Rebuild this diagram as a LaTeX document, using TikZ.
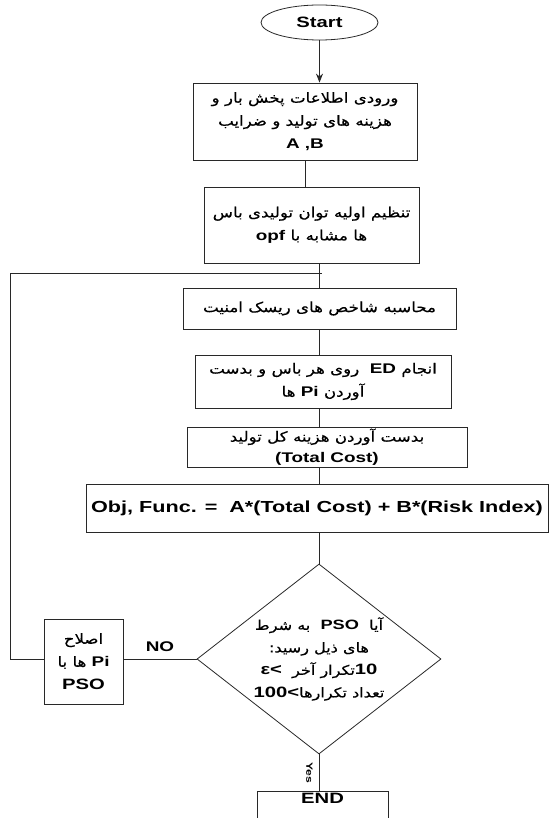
\documentclass[tikz,border=0pt]{standalone}
\usepackage{fontspec}
\setmainfont{Liberation Sans}[FakeStretch=1.35]
\newfontfamily\arabicfont[Script=Arabic, FakeStretch=1.19, FakeBold=0.4]{DejaVu Sans}
\TeXXeTstate=1
\usetikzlibrary{shapes.geometric, arrows.meta, positioning, calc}
\definecolor{flowline}{RGB}{40, 40, 40}
\newcommand{\fa}[1]{{\arabicfont\beginR #1\endR}}
\newcommand{\lat}[1]{{\rmfamily\bfseries #1}}

\begin{document}
\begin{tikzpicture}[
    x=1pt, y=-1pt,
    flow/.style={draw=flowline, line width=0.8pt},
    box/.style={rectangle, draw=flowline, line width=0.8pt, align=center, inner sep=2pt, font=\fontsize{14}{23}\selectfont},
    terminal/.style={ellipse, draw=flowline, line width=0.8pt, minimum width=117pt, minimum height=35pt, inner sep=0pt, font=\fontsize{15}{18}\selectfont\bfseries},
    decision/.style={diamond, draw=flowline, line width=0.8pt, minimum width=244pt, minimum height=190pt, aspect=1.28, inner sep=0pt},
    tag/.style={font=\fontsize{14}{16}\selectfont\bfseries}
]
\useasboundingbox (0,0) rectangle (550,818);

\node[terminal] (start) at (319.5,22.5) {Start};
\node[box, minimum width=224pt, minimum height=77pt] (input) at (305,121.5) {\fa{ورودی اطلاعات پخش بار و}\\ \fa{هزینه های تولید و ضرایب}\\ \lat{A ,B}};
\node[box, minimum width=215pt, minimum height=76pt] (init) at (311.5,225) {\fa{تنظیم اولیه توان تولیدی باس}\\ \fa{ها مشابه با \lat{opf}}};
\node[box, minimum width=273pt, minimum height=41pt] (risk) at (319.5,308.5) {\fa{محاسبه شاخص های ریسک امنیت}};
\node[box, minimum width=256pt, minimum height=53pt] (ed) at (323,381.5) {\fa{انجام \lat{ED}\ \ روی هر باس و بدست}\\ \fa{آوردن \lat{Pi} ها}};
\node[box, minimum width=280pt, minimum height=40pt, inner ysep=0pt, font=\fontsize{14}{21}\selectfont] (cost) at (327,447) {\fa{بدست آوردن هزینه کل تولید}\\ \lat{(Total Cost)}};
\node[box, minimum width=462pt, minimum height=48pt, font=\fontsize{16}{18}\selectfont\bfseries] (obj) at (317,508) {Obj, Func. =\ \ A*(Total Cost) + B*(Risk Index)};

% stopping test
\node[decision] (check) at (319,659) {};
\node[font=\fontsize{13.5}{22.5}\selectfont, align=center] (checktxt) at (check.center) {\fa{آیا\ \ \lat{PSO}\ \ به شرط}\\ \fa{های ذیل رسید:}\\ \lat{\fontsize{15}{16}\selectfont ε<}\ \ \fa{تکرار آخر}\lat{\fontsize{15}{16}\selectfont 10}\\ \lat{\fontsize{15}{16}\selectfont 100<}\fa{تعداد تکرارها}};
\node[box, minimum width=79pt, minimum height=85pt, inner sep=1pt] (update) at (83.5,661.5) {\fa{اصلاح}\\ \fa{\lat{Pi} ها با}\\ \lat{\fontsize{15}{18}\selectfont PSO}};
\node[box, anchor=north, minimum width=131pt, text height=10pt, text depth=24pt, font=\fontsize{15}{18}\selectfont\bfseries] (end) at (322.5,791) {END};

\draw[flow, -{Stealth[length=9pt, width=7pt]}] (start.south) -- (start.south |- input.north);
\draw[flow] (input.south) -- (input.south |- init.north);
\draw[flow] (risk.north |- init.south) -- (risk.north);
\draw[flow] (risk.south) -- (risk.south |- ed.north);
\draw[flow] (ed.south -| risk.south) -- (risk.south |- cost.north);
\draw[flow] (cost.south -| risk.south) -- (risk.south |- obj.north);
\draw[flow] (obj.south -| check.north) -- (check.north);
\draw[flow] (check.south) -- (check.south |- end.north) node[pos=0.5, anchor=north, rotate=-90, inner sep=6pt, font=\fontsize{9}{10}\selectfont\bfseries] (yes) {Yes};
\draw[flow] (check.west) -- (update.east |- check.west) node[midway, above=4pt, tag] (no) {NO};

% loop back
\coordinate (join) at (322,273);
\draw[flow] (update.west |- check.west) -- ++(-33,0) |- (join);

\end{tikzpicture}
\end{document}
